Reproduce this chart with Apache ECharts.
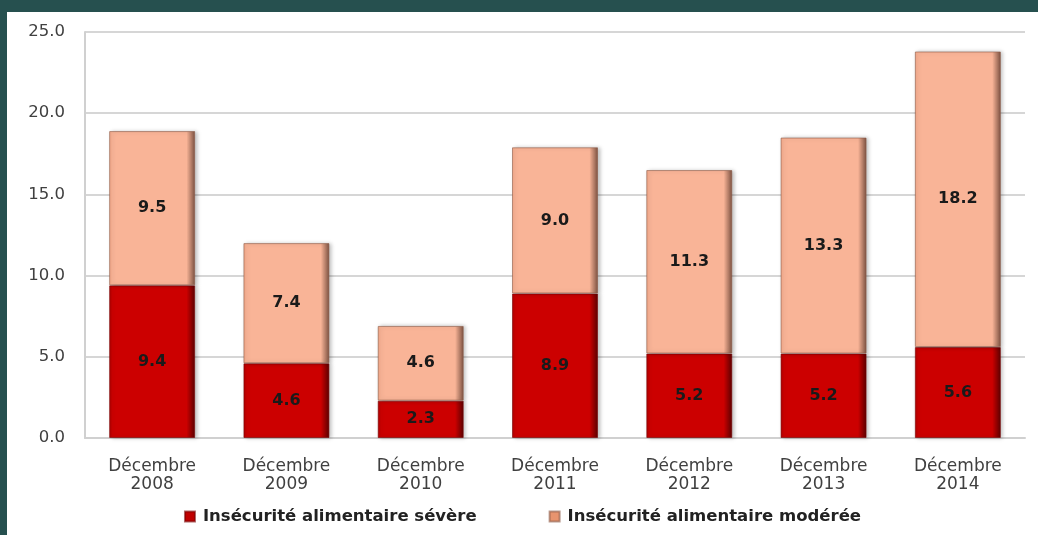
<!DOCTYPE html>
<html><head><meta charset="utf-8">
<script src="https://cdn.jsdelivr.net/npm/echarts@6/dist/echarts.min.js"></script>
<style>
html,body{margin:0;padding:0;width:1038px;height:535px;background:#26504f;overflow:hidden}
#c{position:absolute;left:7px;top:12px;width:1031px;height:523px;background:#fff}
</style></head><body><div id="c"></div>
<script>
const categories = ['Décembre\n2008','Décembre\n2009','Décembre\n2010','Décembre\n2011','Décembre\n2012','Décembre\n2013','Décembre\n2014'];
const severe = [9.4, 4.6, 2.3, 8.9, 5.2, 5.2, 5.6];
const moderate = [9.5, 7.4, 4.6, 9.0, 11.3, 13.3, 18.2];
const seriesNames = ['Insécurité alimentaire sévère', 'Insécurité alimentaire modérée'];

const chart = echarts.init(document.getElementById('c'));
function grad(base, edge){
  return new echarts.graphic.LinearGradient(0,0,1,0,[
    {offset:0,color:edge.l},{offset:0.04,color:base},{offset:0.9,color:base},{offset:1,color:edge.r}
  ]);
}
const lbl = {show:true,position:'inside',formatter:p=>p.value.toFixed(1),color:'#1a1a1a',fontFamily:'DejaVu Sans',fontWeight:'bold',fontSize:16};
chart.setOption({
  animation:false,
  grid:{left:78,right:13,top:20,bottom:97},
  legend:{top:491,left:'center',itemGap:72,itemWidth:10,itemHeight:10,icon:'rect',
    textStyle:{fontFamily:'DejaVu Sans',fontWeight:'bold',fontSize:16.5,color:'#222',padding:[0,0,0,3]},
    data:[{name:seriesNames[0],itemStyle:{color:'#c00000'}},{name:seriesNames[1],itemStyle:{color:'#e8946e'}}]},
  xAxis:{type:'category',data:categories,
    axisLine:{lineStyle:{color:'#d0d0d0',width:2}},axisTick:{show:false},
    axisLabel:{color:'#404040',fontFamily:'DejaVu Sans',fontSize:17,lineHeight:18,margin:20}},
  yAxis:{type:'value',min:0,max:25,interval:5,
    axisLine:{show:true,lineStyle:{color:'#d0d0d0',width:2}},axisTick:{show:false},
    splitLine:{lineStyle:{color:'#d6d6d6',width:2}},
    axisLabel:{formatter:v=>v.toFixed(1),color:'#404040',fontFamily:'DejaVu Sans',fontSize:16.5,margin:20}},
  series:[
    {name:seriesNames[0],type:'bar',stack:'a',data:severe,barWidth:86,label:lbl,
     itemStyle:{color:grad('#cc0000',{l:'#b00000',r:'#5a0000'}),borderColor:'rgba(120,0,0,0.6)',borderWidth:1,
       shadowColor:'rgba(0,0,0,0.25)',shadowBlur:4,shadowOffsetX:2}},
    {name:seriesNames[1],type:'bar',stack:'a',data:moderate,barWidth:86,label:lbl,
     itemStyle:{color:grad('#f9b497',{l:'#f3a888',r:'#7a5040'}),borderColor:'rgba(140,90,70,0.6)',borderWidth:1,
       shadowColor:'rgba(0,0,0,0.25)',shadowBlur:4,shadowOffsetX:2}}
  ]
});
</script></body></html>
